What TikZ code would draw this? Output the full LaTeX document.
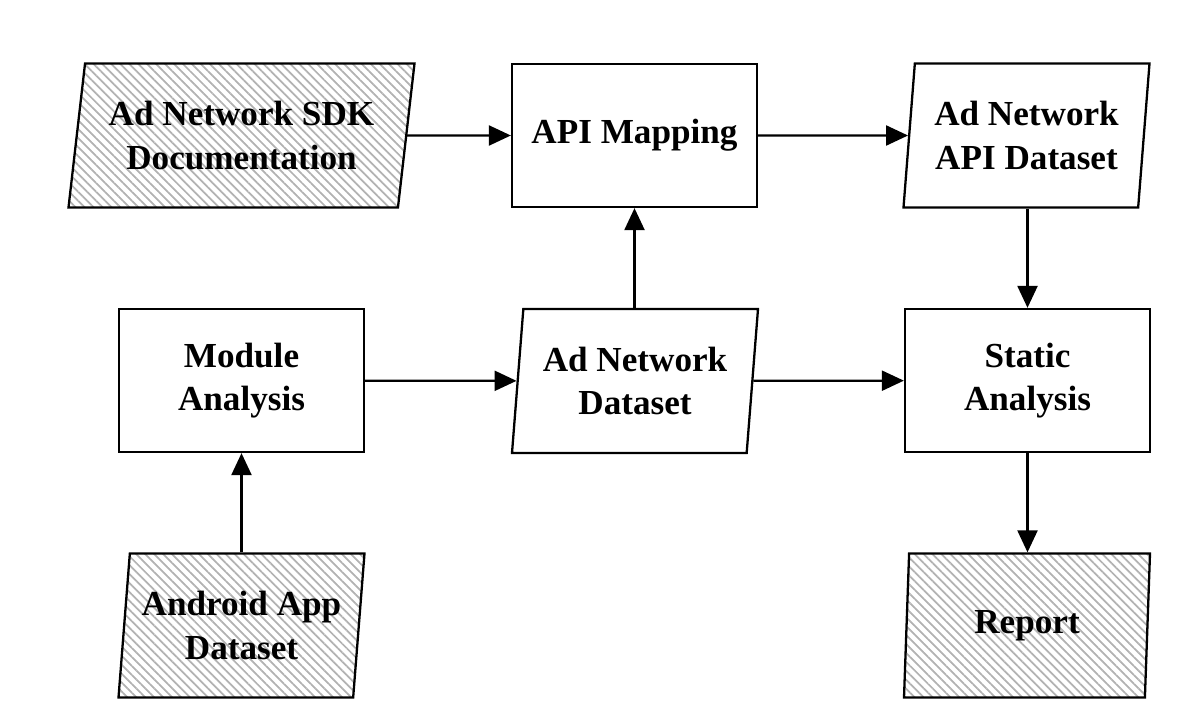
\documentclass[tikz,border=0pt]{standalone}
\usepackage{fontspec}
\setmainfont{Liberation Serif}
\usetikzlibrary{shapes.geometric,arrows.meta,patterns.meta}

\tikzset{
    procbox/.style={draw, line width=1.3pt, rectangle, minimum width=4.9cm, minimum height=2.86cm,
        align=center, font=\bfseries\fontsize{20}{24.5}\selectfont},
    databox/.style={draw, line width=1.3pt, trapezium, trapezium left angle=#1, trapezium right angle=180-#1,
        trapezium stretches body, minimum width=4.92cm, minimum height=2.88cm, inner sep=0pt,
        align=center, font=\bfseries\fontsize{20}{24.5}\selectfont},
    databox/.default=80.5,
    hatched/.style={pattern={Lines[angle=-45, distance=3.6pt, line width=1pt]}, pattern color=gray!60},
    flow/.style={-{Triangle[length=0.44cm, width=0.4cm]}, line width=1.3pt}
}

\begin{document}
\begin{tikzpicture}
    \useasboundingbox (0,0) rectangle (23.96,-14.44);

    % Eingaben und Datensaetze
    \node[databox=76.3, hatched, minimum width=6.92cm] (sdkdoc) at (4.83,-2.71) {Ad Network SDK\\Documentation};
    \node[databox] (apidata) at (20.53,-2.71) {Ad Network\\API Dataset};
    \node[databox] (addata) at (12.70,-7.62) {Ad Network\\Dataset};
    \node[databox, hatched] (appdata) at (4.83,-12.51) {Android App\\Dataset};
    \node[databox, hatched] (report) at (20.54,-12.51) {Report};

    % Verarbeitungsschritte
    \node[procbox] (mapping) at (12.69,-2.71) {API Mapping};
    \node[procbox] (module) at (4.83,-7.61) {Module\\Analysis};
    \node[procbox] (static) at (20.55,-7.61) {Static\\Analysis};

    % Pfeile
    \draw[flow] (sdkdoc) -- (mapping);
    \draw[flow] (mapping) -- (apidata);
    \draw[flow] (addata.north -| mapping.south) -- (mapping.south);
    \draw[flow] (module) -- (addata);
    \draw[flow] (addata) -- (static);
    \draw[flow] (apidata.south -| static.north) -- (static.north);
    \draw[flow] (appdata.north -| module.south) -- (module.south);
    \draw[flow] (static.south) -- (report.north -| static.south);
\end{tikzpicture}
\end{document}
